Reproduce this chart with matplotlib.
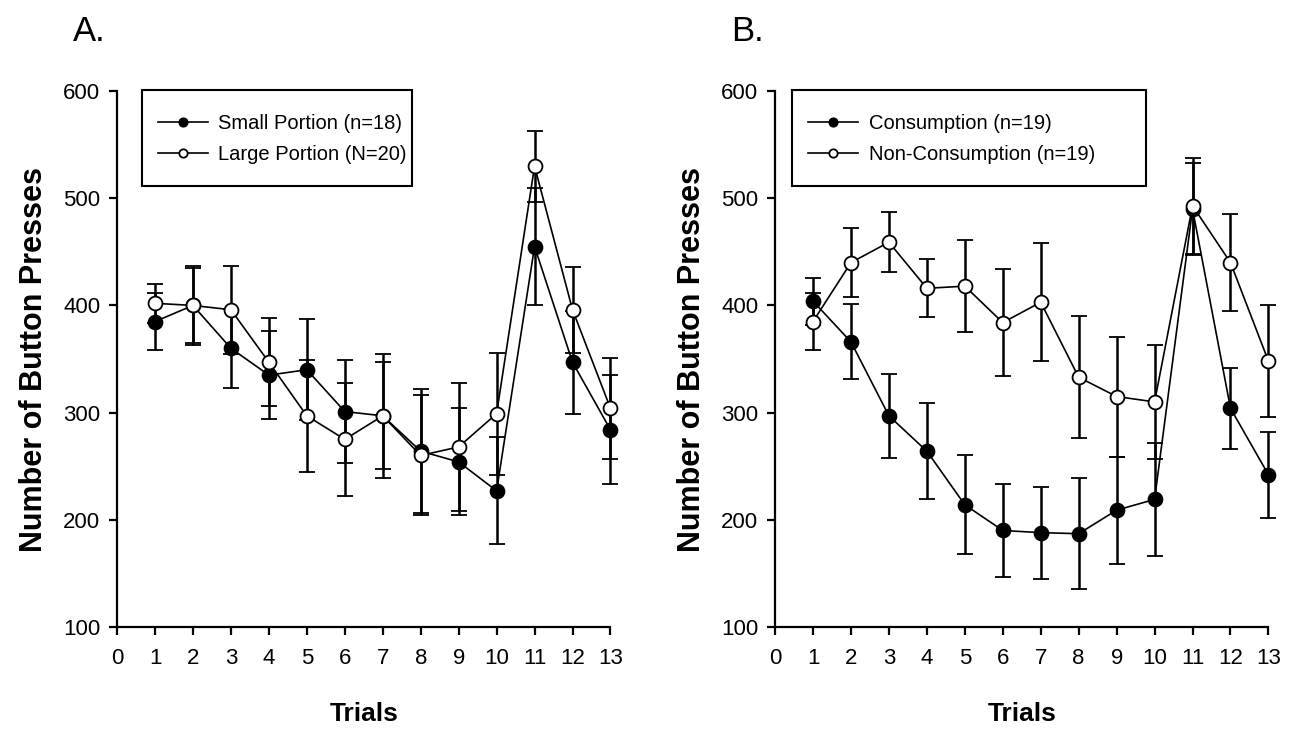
import matplotlib
matplotlib.use("Agg")
import matplotlib.pyplot as plt
from matplotlib.patches import Rectangle
import numpy as np

plt.rcParams['font.family'] = ['Liberation Sans', 'DejaVu Sans']

trials = np.arange(1, 14)

# panel A
small_mean = [385, 400, 360, 335, 340, 301, 297, 264, 254, 227, 455, 347, 284]
small_se = [27, 35, 37, 41, 47, 48, 50, 58, 50, 50, 55, 48, 51]
large_mean = [402, 400, 396, 347, 297, 275, 297, 260, 268, 299, 530, 396, 304]
large_se = [18, 37, 41, 41, 52, 53, 58, 56, 60, 57, 33, 40, 47]

# panel B
cons_mean = [404, 366, 297, 264, 214, 190, 188, 187, 209, 219, 490, 304, 242]
cons_se = [22, 35, 39, 45, 46, 43, 43, 52, 50, 53, 43, 38, 40]
noncons_mean = [385, 440, 459, 416, 418, 384, 403, 333, 315, 310, 493, 440, 348]
noncons_se = [27, 32, 28, 27, 43, 50, 55, 57, 56, 53, 45, 45, 52]

# letter, series, axes left, legend box (x0, x1)
panels = [
    ("A.", [(small_mean, small_se, 'black', 'Small Portion (n=18)'),
            (large_mean, large_se, 'white', 'Large Portion (N=20)')], 0.0904, (0.051, 0.597)),
    ("B.", [(cons_mean, cons_se, 'black', 'Consumption (n=19)'),
            (noncons_mean, noncons_se, 'white', 'Non-Consumption (n=19)')], 0.5985, (0.035, 0.752)),
]

fig = plt.figure(figsize=(12.95, 7.29), dpi=100)

for letter, series, left, (bx0, bx1) in panels:
    ax = fig.add_axes([left, 0.140, 0.381, 0.735])
    for mean, se, fc, lab in series:
        ax.errorbar(trials, mean, yerr=se, color='black', lw=1.2, elinewidth=1.8,
                    capsize=6, capthick=1.8, marker='o', markersize=10,
                    markerfacecolor=fc, markeredgecolor='black', markeredgewidth=1.3,
                    label=lab, clip_on=False)
    ax.set_xlim(0, 13)
    ax.set_ylim(100, 600)
    ax.set_xticks(range(0, 14))
    ax.set_yticks(range(100, 601, 100))
    for s in ['top', 'right']:
        ax.spines[s].set_visible(False)
    for s in ['left', 'bottom']:
        ax.spines[s].set_linewidth(1.6)
    ax.tick_params(direction='out', length=6, width=1.6, labelsize=16)
    ax.tick_params(axis='x', pad=9)
    ax.tick_params(axis='y', pad=6)
    ax.set_xlabel('Trials', fontsize=19, fontweight='bold', labelpad=24)
    ax.set_ylabel('Number of Button Presses', fontsize=22, fontweight='bold', labelpad=10)
    ax.text(-0.09, 1.112, letter, transform=ax.transAxes, fontsize=25, va='center')

    # legend box drawn by hand, entries placed inside it
    ax.add_patch(Rectangle((bx0, 0.823), bx1 - bx0, 0.179, transform=ax.transAxes,
                           fill=False, edgecolor='black', lw=1.5, clip_on=False))
    handles, labels = ax.get_legend_handles_labels()
    ax.legend([h[0] for h in handles], labels, loc='upper left',
              bbox_to_anchor=(bx0 + 0.032, 0.958), fontsize=14.5, frameon=False,
              handlelength=2.5, handletextpad=0.5, borderpad=0, labelspacing=0.6,
              borderaxespad=0, markerscale=0.6)

fig.savefig('out.png', dpi=100, facecolor='white')
